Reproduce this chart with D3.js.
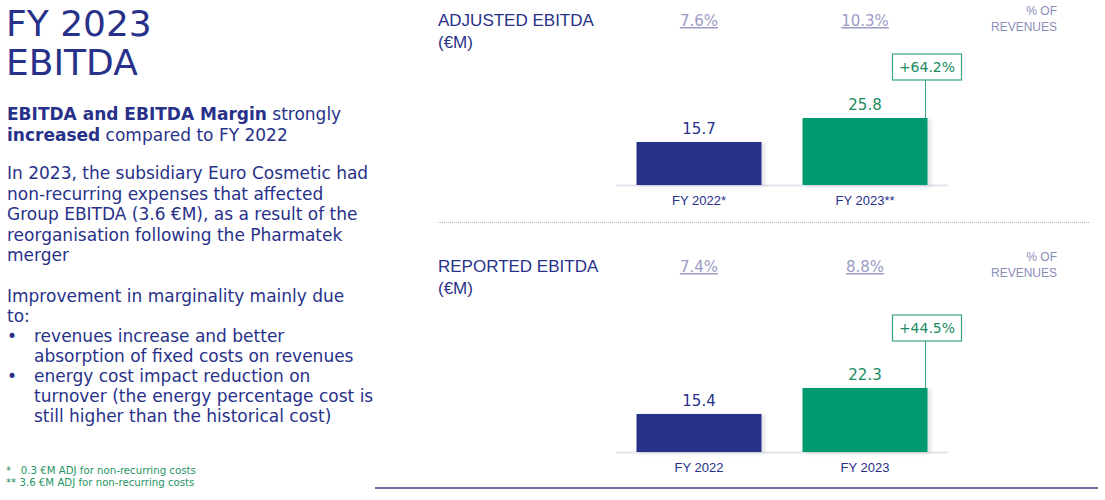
<!DOCTYPE html>
<html>
<head>
<meta charset="utf-8">
<script src="https://cdn.jsdelivr.net/npm/d3@7"></script>
<style>
  body { margin: 0; background: #fff; }
  svg { display: block; }
</style>
</head>
<body>
<svg id="plot" width="1105" height="500"></svg>
<script>
const svg = d3.select("#plot");
const navy = "#283189";
const green = "#009a70";
const pale = "#9a9cc4";

// chart data
const categoriesAdj = ["FY 2022*", "FY 2023**"];
const valuesAdj = [15.7, 25.8];
const marginsAdj = ["7.6%", "10.3%"];
const growthAdj = "+64.2%";

const categoriesRep = ["FY 2022", "FY 2023"];
const valuesRep = [15.4, 22.3];
const marginsRep = ["7.4%", "8.8%"];
const growthRep = "+44.5%";

// left column text
const titleLines = ["FY 2023", "EBITDA"];
const para2 = ["In 2023, the subsidiary Euro Cosmetic had",
  "non-recurring expenses that affected",
  "Group EBITDA (3.6 €M), as a result of the",
  "reorganisation following the Pharmatek",
  "merger"];
const para3 = ["Improvement in marginality mainly due", "to:"];
const bullets = [
  ["revenues increase and better", "absorption of fixed costs on revenues"],
  ["energy cost impact reduction on", "turnover (the energy percentage cost is", "still higher than the historical cost)"]
];
const footnotes = ["*   0.3 €M ADJ for non-recurring costs", "** 3.6 €M ADJ for non-recurring costs"];

const bodyFont = "DejaVu Sans, Verdana, sans-serif";
const labelFont = "'Liberation Sans', Arial, sans-serif";

// ---- left text block ----
const left = svg.append("g").attr("fill", navy).style("font-family", bodyFont);

titleLines.forEach((t, i) => {
  left.append("text").attr("x", 6).attr("y", 36 + i * 39)
    .attr("font-size", 36).text(t);
});

const p1 = left.append("text").attr("x", 7).attr("y", 120).attr("font-size", 17);
p1.append("tspan").attr("font-weight", "bold").text("EBITDA and EBITDA Margin");
p1.append("tspan").text(" strongly");
const p1b = left.append("text").attr("x", 7).attr("y", 141).attr("font-size", 17);
p1b.append("tspan").attr("font-weight", "bold").text("increased");
p1b.append("tspan").text(" compared to FY 2022");

para2.forEach((t, i) => {
  left.append("text").attr("x", 7).attr("y", 179 + i * 20.5)
    .attr("font-size", 17).text(t);
});
para3.forEach((t, i) => {
  left.append("text").attr("x", 7).attr("y", 302 + i * 20)
    .attr("font-size", 17).text(t);
});
let lineY = 342;
bullets.forEach(b => {
  left.append("text").attr("x", 7).attr("y", lineY).attr("font-size", 17).text("•");
  b.forEach(t => {
    left.append("text").attr("x", 34).attr("y", lineY).attr("font-size", 17).text(t);
    lineY += 20;
  });
});

footnotes.forEach((t, i) => {
  svg.append("text").attr("x", 6).attr("y", 474 + i * 12)
    .attr("fill", "#1f9463").attr("font-size", 10.2)
    .style("font-family", bodyFont).style("white-space", "pre").text(t);
});

// subtle shadow for bars
const defs = svg.append("defs");
const f = defs.append("filter").attr("id", "shadow").attr("x", "-10%").attr("y", "-10%")
  .attr("width", "130%").attr("height", "130%");
f.append("feDropShadow").attr("dx", 3).attr("dy", 1).attr("stdDeviation", 2)
  .attr("flood-color", "#000").attr("flood-opacity", 0.12);

// ---- chart panel ----
function drawPanel(opts) {
  const g = svg.append("g");
  const x = d3.scaleBand().domain(opts.categories).range([616, 948])
    .paddingInner(0.247).paddingOuter(0.1235);
  const y = d3.scaleLinear().domain(opts.domain).range([opts.base, opts.base - opts.span]);

  // header
  g.append("text").attr("x", 438).attr("y", opts.top + 26).attr("fill", navy)
    .attr("font-size", 17).style("font-family", labelFont).text(opts.title);
  g.append("text").attr("x", 438).attr("y", opts.top + 48).attr("fill", navy)
    .attr("font-size", 17).style("font-family", labelFont).text("(€M)");

  opts.margins.forEach((m, i) => {
    g.append("text").attr("x", x(opts.categories[i]) + x.bandwidth() / 2)
      .attr("y", opts.top + 26).attr("text-anchor", "middle")
      .attr("fill", pale).attr("font-size", 15).style("font-family", bodyFont)
      .attr("text-decoration", "underline").text(m);
  });
  g.append("text").attr("x", 1057).attr("y", opts.top + 15).attr("text-anchor", "end")
    .attr("fill", "#8a8db8").attr("font-size", 12).style("font-family", labelFont).text("% OF");
  g.append("text").attr("x", 1057).attr("y", opts.top + 31).attr("text-anchor", "end")
    .attr("fill", "#8a8db8").attr("font-size", 12).style("font-family", labelFont).text("REVENUES");

  // baseline
  g.append("line").attr("x1", 616).attr("x2", 948)
    .attr("y1", opts.base + 0.5).attr("y2", opts.base + 0.5)
    .attr("stroke", "#e3e4ee").attr("stroke-width", 2);

  // bars
  g.selectAll("rect.bar").data(opts.values).join("rect")
    .attr("class", "bar")
    .attr("x", (d, i) => x(opts.categories[i]))
    .attr("width", x.bandwidth())
    .attr("y", d => y(d))
    .attr("height", d => opts.base - y(d))
    .attr("fill", (d, i) => i === 0 ? navy : green)
    .attr("filter", "url(#shadow)");

  // value labels
  g.selectAll("text.val").data(opts.values).join("text")
    .attr("class", "val")
    .attr("x", (d, i) => x(opts.categories[i]) + x.bandwidth() / 2)
    .attr("y", d => y(d) - 8)
    .attr("text-anchor", "middle")
    .attr("fill", (d, i) => i === 0 ? navy : "#1a8c62")
    .attr("font-size", 15).style("font-family", bodyFont)
    .text(d => d.toFixed(1));

  // category labels
  opts.categories.forEach(c => {
    g.append("text").attr("x", x(c) + x.bandwidth() / 2).attr("y", opts.base + 20)
      .attr("text-anchor", "middle").attr("fill", navy)
      .attr("font-size", 13).style("font-family", labelFont).text(c);
  });

  // growth box + connector
  const last = opts.categories[opts.categories.length - 1];
  const cx = x(last) + x.bandwidth() - 2;
  const boxTop = opts.boxTop;
  g.append("line").attr("x1", cx).attr("x2", cx)
    .attr("y1", boxTop + 26).attr("y2", y(opts.values[opts.values.length - 1]))
    .attr("stroke", "#3aa585").attr("stroke-width", 1);
  g.append("rect").attr("x", cx - 33).attr("y", boxTop).attr("width", 69).attr("height", 26)
    .attr("fill", "#fff").attr("stroke", "#3aa585").attr("stroke-width", 1.2);
  g.append("text").attr("x", cx + 1.5).attr("y", boxTop + 18).attr("text-anchor", "middle")
    .attr("fill", "#1a8c62").attr("font-size", 14).style("font-family", bodyFont)
    .text(opts.growth);
}

drawPanel({
  title: "ADJUSTED EBITDA", categories: categoriesAdj, values: valuesAdj,
  margins: marginsAdj, growth: growthAdj, top: 0, base: 185, domain: [-2.4, 25.8], span: 67,
  boxTop: 54
});
drawPanel({
  title: "REPORTED EBITDA", categories: categoriesRep, values: valuesRep,
  margins: marginsRep, growth: growthRep, top: 246, base: 452, domain: [5.3, 22.3], span: 64,
  boxTop: 315
});

// separators
svg.append("line").attr("x1", 438).attr("x2", 1090).attr("y1", 222.5).attr("y2", 222.5)
  .attr("stroke", "#a9aabb").attr("stroke-width", 1).attr("stroke-dasharray", "1,1");
svg.append("line").attr("x1", 375).attr("x2", 1098).attr("y1", 488).attr("y2", 488)
  .attr("stroke", "#3a3f7a").attr("stroke-width", 1.5);
</script>
</body>
</html>
